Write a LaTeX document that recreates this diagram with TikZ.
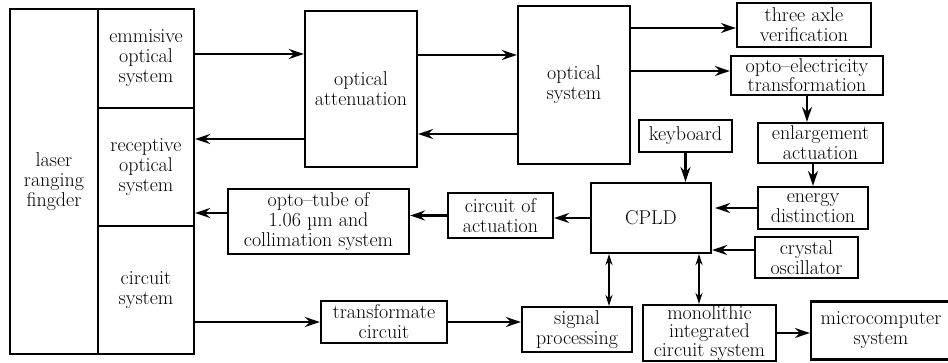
\documentclass[tikz,border=0pt]{standalone}
\usepackage{fontspec}
\usetikzlibrary{arrows.meta}

\begin{document}
\begin{tikzpicture}[x=1pt, y=-1pt, line width=2.2pt,
  blk/.style={draw, align=center, inner sep=0pt, font=\fontsize{20}{20}\selectfont},
  arr/.style={-{Stealth[length=15pt,width=10pt]}},
  darr/.style={{Stealth[length=11pt,width=7pt]}-{Stealth[length=11pt,width=7pt]}, line width=1.8pt}]
\useasboundingbox (0,0) rectangle (948,363);

\node[blk, minimum width=88pt, minimum height=345pt] (laser) at (54,181.5) {laser\\ranging\\fingder};
\node[blk, minimum width=96pt, minimum height=99pt] (emis) at (146,58.5) {emmisive\\optical\\system};
\node[blk, minimum width=96pt, minimum height=118pt] (recv) at (146,167) {receptive\\optical\\system};
\node[blk, minimum width=96pt, minimum height=128pt] (circ) at (146,290) {circuit\\system};

\node[blk, minimum width=112pt, minimum height=156pt] (atten) at (361,89) {optical\\attenuation};
\node[blk, minimum width=112pt, minimum height=158pt] (optsys) at (574,85) {optical\\system};

\node[blk, minimum width=134pt, minimum height=44pt] (axle) at (804,25) {three axle\\verification};
\node[blk, minimum width=152pt, minimum height=39pt, font=\fontsize{20}{18}\selectfont] (oe) at (807,75.5) {opto--electricity\\transformation};
\node[blk, minimum width=125pt, minimum height=40pt] (enlarge) at (820.5,143) {enlargement\\actuation};
\node[blk, minimum width=93pt, minimum height=32pt] (keyb) at (685.5,136) {keyboard};
\node[blk, minimum width=120pt, minimum height=70pt] (cpld) at (651,218) {CPLD};
\node[blk, minimum width=110pt, minimum height=42pt] (energy) at (813,208) {energy\\distinction};
\node[blk, minimum width=103pt, minimum height=41pt] (crystal) at (806.5,257.5) {crystal\\oscillator};

\node[blk, minimum width=105pt, minimum height=45pt] (actu) at (500.5,215.5) {circuit of\\actuation};
\node[blk, minimum width=181pt, minimum height=65pt] (tube) at (318.5,221.5) {opto--tube of\\1.06 \textmu m and\\collimation system};

\node[blk, minimum width=126pt, minimum height=42pt] (trans) at (384,322) {transformate\\circuit};
\node[blk, minimum width=110pt, minimum height=45pt] (signal) at (577,329.5) {signal\\processing};
\node[blk, minimum width=133pt, minimum height=56pt, font=\fontsize{20}{18.5}\selectfont] (mono) at (709.5,333) {monolithic\\integrated\\circuit system};
\node[blk, minimum width=140pt, minimum height=58pt] (micro) at (881,330.5) {microcomputer\\system};

\draw[arr] ([yshift=4.5pt]emis.east) coordinate (e1) -- (e1 -| atten.west);
\draw[arr] ([yshift=-50pt]atten.west) coordinate (e2) -- (e2 -| recv.east);
\draw[arr] ([yshift=34pt]atten.east) coordinate (e3) -- (e3 -| optsys.west);
\draw[arr] ([yshift=-49pt]optsys.west) coordinate (e4) -- (e4 -| atten.east);
\draw[arr] ([yshift=-3pt]axle.west -| optsys.east) coordinate (e5) -- (e5 -| axle.west);
\draw[arr] ([yshift=4.5pt]oe.west -| optsys.east) coordinate (e6) -- (e6 -| oe.west);
\draw[arr] (oe.south) -- (oe.south |- enlarge.north);
\draw[arr] (energy.north |- enlarge.south) -- (energy.north);
\draw[arr] (keyb.south) -- (keyb.south |- cpld.north);
\draw[arr, shorten >=3pt] (energy.west) -- (energy.west -| cpld.east);
\draw[arr] ([yshift=7.5pt]crystal.west) coordinate (e7) -- (e7 -| cpld.east);
\draw[arr] (cpld.west) -- (cpld.west -| actu.east);
\draw[arr] (actu.west) -- (actu.west -| tube.east);
\draw[arr] ([yshift=8.5pt]tube.west) coordinate (e8) -- (e8 -| recv.east);
\draw[arr] (circ.east |- trans.west) -- (trans.west);
\draw[arr] (trans.east) -- (trans.east -| signal.west);
\draw[darr] ([xshift=-42pt]cpld.south) coordinate (d1) -- (d1 |- signal.north);
\draw[darr] ([xshift=48pt]cpld.south) coordinate (d2) -- (d2 |- mono.north);
\draw[arr] (mono.east) -- (mono.east -| micro.west);
\end{tikzpicture}
\end{document}
